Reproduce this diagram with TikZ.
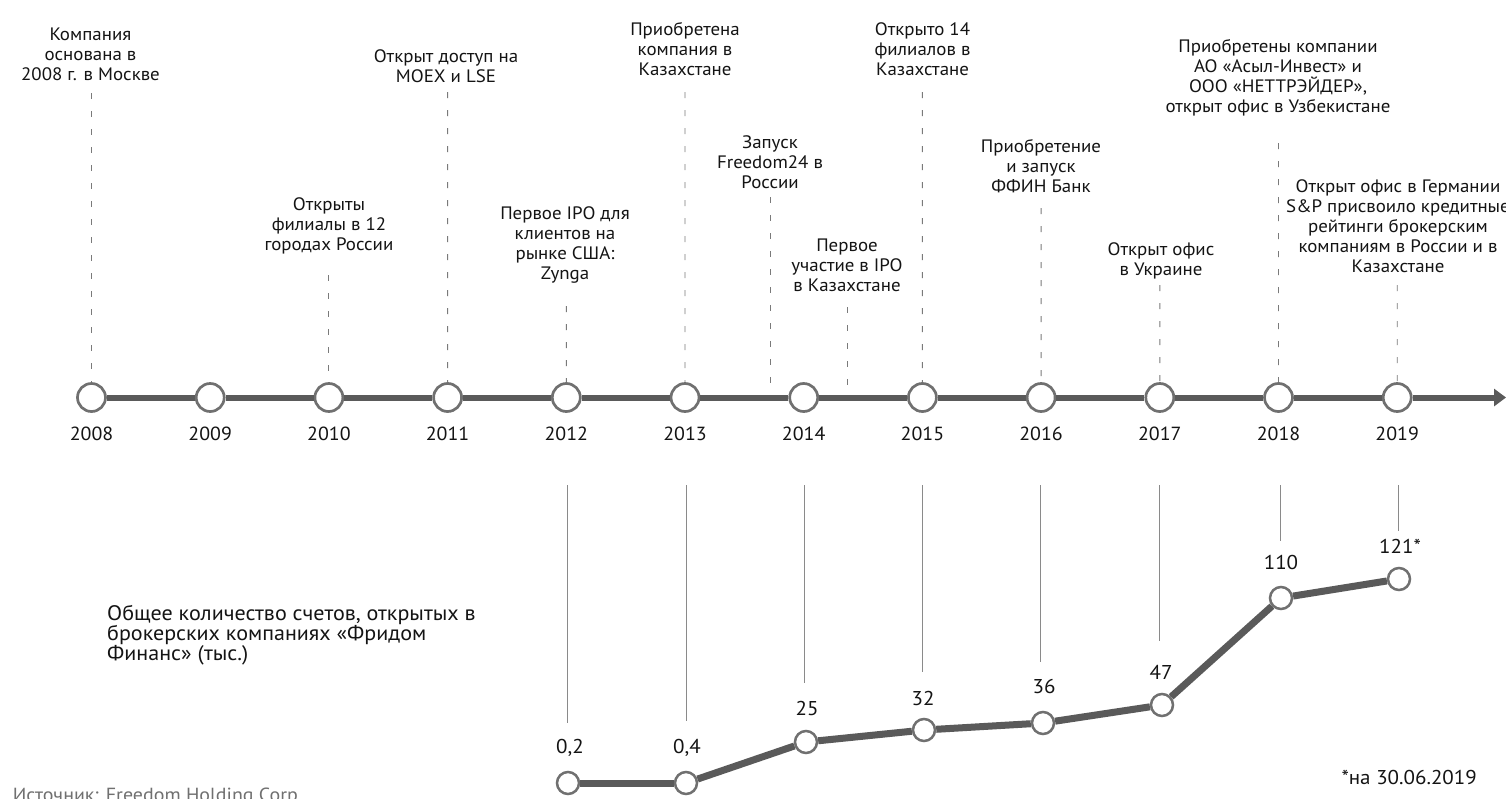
\documentclass[tikz,border=0pt]{standalone}
\usepackage{fontspec}
\setmainfont[FakeStretch=1.05]{PT Sans}
\usetikzlibrary{arrows.meta}
\definecolor{tl}{HTML}{5A5A5A}
\definecolor{ring}{HTML}{707070}
\definecolor{dashc}{HTML}{7A7A7A}
\definecolor{thin}{HTML}{8A8A8A}
\definecolor{txt}{HTML}{141414}
\definecolor{src}{HTML}{707070}
\newcommand\tstrut{\rule{0pt}{13pt}}
\begin{document}
\begin{tikzpicture}[x=1pt,y=-1pt,
  yr/.style={circle, draw=ring, line width=2.7pt, fill=white, minimum size=28pt, inner sep=0pt},
  dp/.style={circle, draw=ring, line width=2.5pt, fill=white, minimum size=22pt, inner sep=0pt},
  ev/.style={align=center, anchor=north, inner sep=0pt, text=txt, font=\fontsize{18}{20}\selectfont, execute at begin node=\tstrut},
  yl/.style={anchor=base, inner sep=0pt, text=txt, font=\fontsize{19}{22}\selectfont},
  vl/.style={anchor=base, inner sep=0pt, text=txt, font=\fontsize{20}{22}\selectfont},
  tline/.style={draw=tl, line width=6pt},
  dline/.style={draw=tl, line width=7pt},
  dsh/.style={draw=dashc, line width=0.9pt, dash pattern=on 6pt off 12pt},
  thl/.style={draw=thin, line width=0.9pt}
]
\useasboundingbox (0,0) rectangle (1506,798);
\fill[white] (0,0) rectangle (1506,798);

% ---------- timeline circles ----------
\foreach \yr [count=\i from 0] in {2008,...,2019}{
  \node[yr] (y\yr) at ({91.5+118.7*\i},397.5) {};
  \node[yl] (l\yr) at ({91.5+118.7*\i},440) {\yr};
}
\coordinate (tend) at (1506,397.5);
\foreach \a/\b in {2008/2009,2009/2010,2010/2011,2011/2012,2012/2013,2013/2014,2014/2015,2015/2016,2016/2017,2017/2018,2018/2019}{
  \draw[tline] (y\a) -- (y\b);
}
\draw[tline, -{Triangle[length=12pt,width=17pt]}] (y2019) -- (tend);

% ---------- event texts ----------
\node[ev] (e08) at (90.5,28) {Компания\\основана в\\2008 г. в Москве};
\node[ev] (e10) at (329,197) {Открыты\\филиалы в 12\\городах России};
\node[ev] (e11) at (446,49) {Открыт доступ на\\MOEX и LSE};
\node[ev] (e12) at (565,206) {Первое IPO для\\клиентов на\\рынке США:\\Zynga};
\node[ev] (e13) at (685,22) {Приобретена\\компания в\\Казахстане};
\node[ev] (eF) at (770,135) {Запуск\\Freedom24 в\\России};
\node[ev] (eK) at (847,239) {Первое\\участие в IPO\\в Казахстане};
\node[ev] (e15) at (922.5,22) {Открыто 14\\филиалов в\\Казахстане};
\node[ev] (e16) at (1041,139) {Приобретение\\и запуск\\ФФИН Банк};
\node[ev] (e17) at (1161,242) {Открыт офис\\в Украине};
\node[ev] (e18) at (1278,39) {Приобретены компании\\АО «Асыл-Инвест» и\\ООО «НЕТТРЭЙДЕР»,\\открыт офис в Узбекистане};
\node[ev] (e19) at (1398,179) {Открыт офис в Германии\\S\&P присвоило кредитные\\рейтинги брокерским\\компаниям в России и в\\Казахстане};

% ---------- dashed leaders ----------
\coordinate (d08) at (91.5,93);
\coordinate (d10) at (328.9,275);
\coordinate (d11) at (447.6,92);
\coordinate (d12) at (566.3,306);
\coordinate (d13) at (685,92);
\coordinate (dF) at (770,197);
\coordinate (dFb) at (770,394.5);
\coordinate (dK) at (847,307);
\coordinate (dKb) at (847,394.5);
\coordinate (d15) at (922.4,92);
\coordinate (d16) at (1041.1,208);
\coordinate (d17) at (1159.8,285);
\coordinate (d18) at (1278.5,143);
\coordinate (d19) at (1397.2,285);
\draw[dsh] (d08) -- (y2008.north);
\draw[dsh] (d10) -- (y2010.north);
\draw[dsh] (d11) -- (y2011.north);
\draw[dsh] (d12) -- (y2012.north);
\draw[dsh] (d13) -- (y2013.north);
\draw[dsh] (dF) -- (dFb);
\draw[dsh] (dK) -- (dKb);
\draw[dsh] (d15) -- (y2015.north);
\draw[dsh] (d16) -- (y2016.north);
\draw[dsh] (d17) -- (y2017.north);
\draw[dsh] (d18) -- (y2018.north);
\draw[dsh] (d19) -- (y2019.north);

% ---------- lower chart: thin guides ----------
\foreach \n/\x/\b in {12/567/723,13/686/721,14/804/683,15/922.6/672,16/1040/662,17/1159/641,18/1280/541,19/1398/531}{
  \coordinate (gt\n) at (\x,485);
  \coordinate (gb\n) at (\x,\b);
  \draw[thl] (gt\n) -- (gb\n);
}

% ---------- data points ----------
\node[dp] (p12) at (568,783) {};
\node[dp] (p13) at (686,783) {};
\node[dp] (p14) at (806,742) {};
\node[dp] (p15) at (924,730) {};
\node[dp] (p16) at (1043,723) {};
\node[dp] (p17) at (1162,705) {};
\node[dp] (p18) at (1281,598) {};
\node[dp] (p19) at (1399,579) {};
\foreach \a/\b in {12/13,13/14,14/15,15/16,16/17,17/18,18/19}{
  \draw[dline] (p\a) -- (p\b);
}
\node[vl] (v12) at (570,753) {0,2};
\node[vl] (v13) at (687,753) {0,4};
\node[vl] (v14) at (807,715) {25};
\node[vl] (v15) at (923,705) {32};
\node[vl] (v16) at (1044,693) {36};
\node[vl] (v17) at (1161,679) {47};
\node[vl] (v18) at (1281,569) {110};
\node[vl] (v19) at (1400,553) {121*};

% ---------- captions ----------
\node[align=left, anchor=base west, inner sep=0pt, text=txt, font=\fontsize{21}{20}\selectfont] (cap) at (107,660) {Общее количество счетов, открытых в\\брокерских компаниях «Фридом\\Финанс» (тыс.)};
\node[anchor=base east, inner sep=0pt, text=txt, font=\fontsize{20}{22}\selectfont] (note) at (1477,784) {*на 30.06.2019};
\node[anchor=base west, inner sep=0pt, text=src, font=\fontsize{19}{20}\selectfont] (srcn) at (12.7,801) {Источник: Freedom Holding Corp.};
\end{tikzpicture}
\end{document}
